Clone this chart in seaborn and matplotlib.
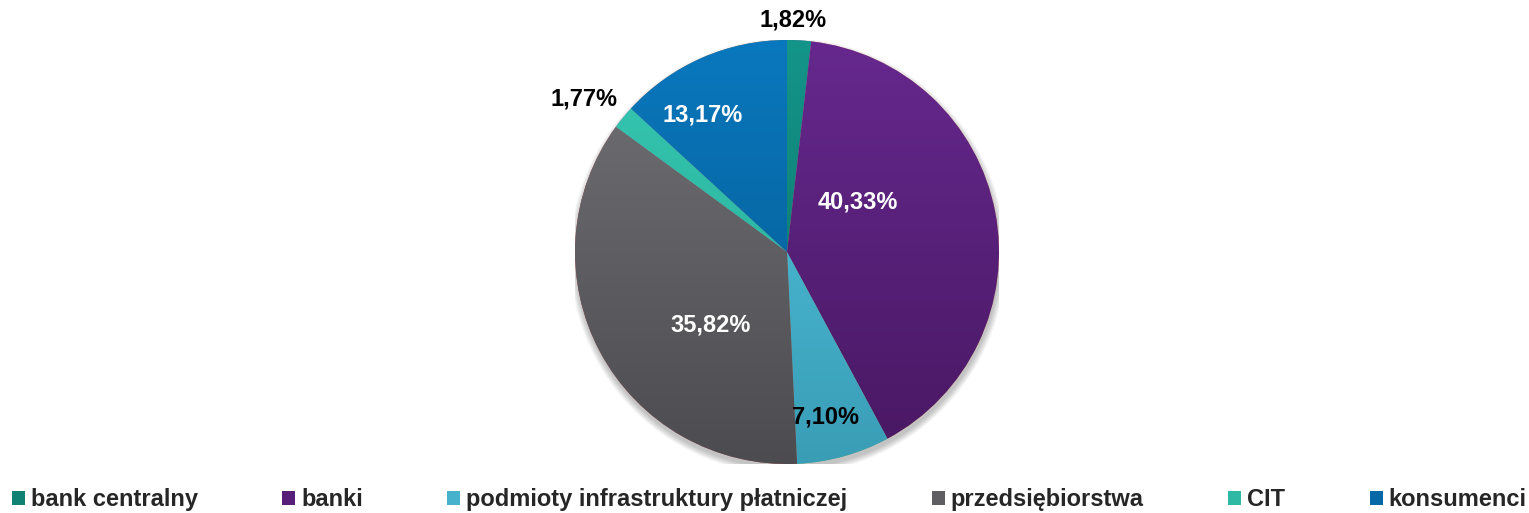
import numpy as np
import matplotlib
matplotlib.use("Agg")
import matplotlib.pyplot as plt
import seaborn as sns
from matplotlib.colors import LinearSegmentedColormap
from matplotlib.patches import Circle, Patch

# Data
categories = ["bank centralny", "banki", "podmioty infrastruktury płatniczej",
              "przedsiębiorstwa", "CIT", "konsumenci"]
shares = [1.82, 40.33, 7.10, 35.82, 1.77, 13.17]
pct_labels = ["1,82%", "40,33%", "7,10%", "35,82%", "1,77%", "13,17%"]

# Vertical gradient colours (top -> bottom) per slice
top_colors = ["#14958a", "#66288e", "#52c6e2", "#727176", "#36c8b2", "#0a78be"]
bottom_colors = ["#0b6e63", "#481862", "#3a9db6", "#4c4b50", "#26a895", "#03578c"]
mid_colors = ["#0f8274", "#581f78", "#46b2cc", "#5f5e63", "#2eb9a4", "#0668a6"]
label_colors = ["black", "white", "black", "white", "black", "white"]
# label placement as (radius fraction, angle in degrees)
label_pos = [(1.095, 88.5), (0.41, 35), (0.80, -77), (0.50, -136.5), (1.2, 143), (0.76, 121.5)]

sns.set_theme(style="white")
plt.rcParams["font.family"] = ["Liberation Sans", "DejaVu Sans"]

fig = plt.figure(figsize=(15.29, 5.13), dpi=100)
cx, cy, r = 787, 252, 212
W, H = 1529, 513
ax = fig.add_axes([(cx - r) / W, (H - cy - r) / H, 2 * r / W, 2 * r / H])

# soft shadow under the pie
for k in range(8):
    ax.add_patch(Circle((0.004, -0.02), 1.0 + 0.004 * k, color="black",
                        alpha=0.03, lw=0, zorder=0))

wedges, _ = ax.pie(shares, startangle=90, counterclock=False, radius=1,
                   wedgeprops=dict(linewidth=0))
ax.set_aspect("equal")
ax.axis("off")

grad = np.linspace(1, 0, 256).reshape(-1, 1)
for w, ct, cb in zip(wedges, top_colors, bottom_colors):
    w.set_zorder(1)
    cmap = LinearSegmentedColormap.from_list("g", [cb, ct])
    im = ax.imshow(grad, cmap=cmap, extent=(-1, 1, -1, 1), origin="upper",
                   aspect="auto", zorder=2, vmin=0, vmax=1)
    im.set_clip_path(w)
ax.set_xlim(-1, 1)
ax.set_ylim(-1, 1)

for txt, col, (rr, ang) in zip(pct_labels, label_colors, label_pos):
    a = np.deg2rad(ang)
    ax.text(rr * np.cos(a), rr * np.sin(a), txt, ha="center", va="center",
            fontsize=17, fontweight="bold", color=col, zorder=5, clip_on=False)

handles = [Patch(facecolor=c, edgecolor="none") for c in mid_colors]
fig.legend(handles, categories, loc="center", bbox_to_anchor=(0.503, 1 - 500 / H),
           ncol=6, frameon=False, prop=dict(size=17, weight="bold"),
           handlelength=0.55, handleheight=0.55, handletextpad=0.25,
           columnspacing=3.58, borderaxespad=0)

fig.savefig("out.png", dpi=100)
